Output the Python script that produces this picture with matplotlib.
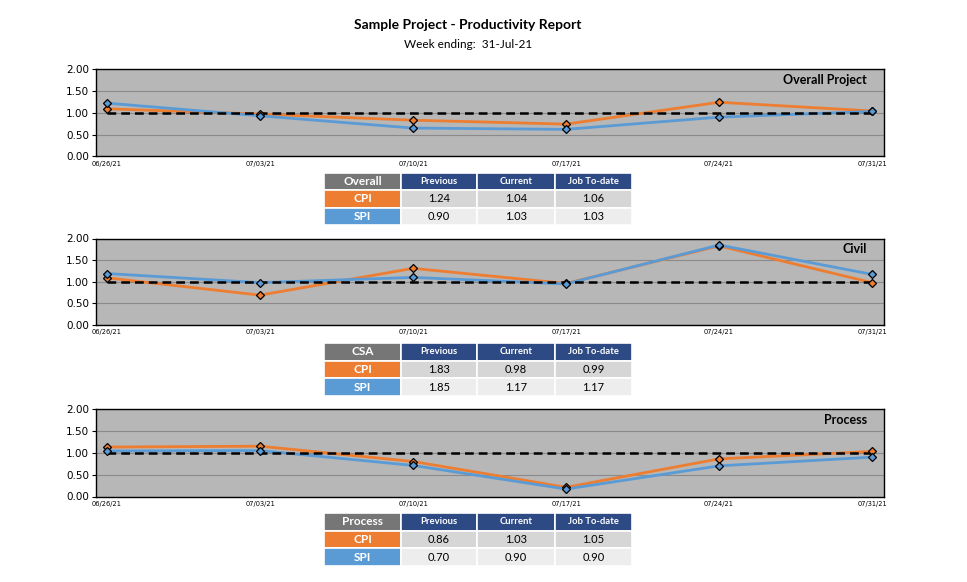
import matplotlib.pyplot as plt
from matplotlib.patches import Rectangle

# data
weeks = ["06/26/21", "07/03/21", "07/10/21", "07/17/21", "07/24/21", "07/31/21"]
target = [1.0, 1.0, 1.0, 1.0, 1.0, 1.0]

overall_cpi = [1.09, 0.97, 0.83, 0.74, 1.24, 1.04]
overall_spi = [1.22, 0.93, 0.65, 0.62, 0.90, 1.03]
civil_cpi = [1.09, 0.69, 1.31, 0.96, 1.83, 0.98]
civil_spi = [1.19, 0.98, 1.10, 0.95, 1.85, 1.17]
process_cpi = [1.13, 1.15, 0.80, 0.21, 0.86, 1.03]
process_spi = [1.04, 1.05, 0.71, 0.17, 0.70, 0.90]

table_cols = ["Previous", "Current", "Job To-date"]
overall_table = {"CPI": ["1.24", "1.04", "1.06"], "SPI": ["0.90", "1.03", "1.03"]}
civil_table = {"CPI": ["1.83", "0.98", "0.99"], "SPI": ["1.85", "1.17", "1.17"]}
process_table = {"CPI": ["0.86", "1.03", "1.05"], "SPI": ["0.70", "0.90", "0.90"]}

ORANGE = "#ED7D31"
BLUE = "#5B9BD5"
NAVY = "#2E4A84"
HEAD_GRAY = "#767676"
PLOT_BG = "#B7B7B7"

W, H = 967, 582
fig = plt.figure(figsize=(W / 100, H / 100), dpi=100)


def px_box(left, top, right, bottom):
    return [left / W, 1 - bottom / H, (right - left) / W, (bottom - top) / H]


fig.text(468 / W, 1 - 25 / H, "Sample Project - Productivity Report",
         ha="center", va="center", fontsize=10, fontweight="bold", family="Lato")
fig.text(468 / W, 1 - 44 / H, "Week ending:  31-Jul-21",
         ha="center", va="center", fontsize=8.5, family="Lato")


def chart(top, bottom, cpi, spi, label):
    ax = fig.add_axes(px_box(96, top, 884, bottom))
    x = range(len(weeks))
    ax.set_facecolor(PLOT_BG)
    ax.plot(x, cpi, color=ORANGE, lw=2, zorder=3)
    ax.plot(x, spi, color=BLUE, lw=2, zorder=3)
    ax.plot(x, target, color="black", lw=1.8, ls=(0, (3.5, 2)), zorder=4)
    ax.plot(x, cpi, ls="none", marker="D", ms=4, mfc=ORANGE, mec="black", mew=0.9, zorder=5)
    ax.plot(x, spi, ls="none", marker="D", ms=4, mfc=BLUE, mec="black", mew=0.9, zorder=5)
    ax.set_ylim(0, 2)
    ax.set_xlim(-0.072, 5.078)
    ax.set_yticks([0, 0.5, 1.0, 1.5, 2.0])
    ax.set_yticklabels([f"{v:.2f}" for v in [0, 0.5, 1.0, 1.5, 2.0]], fontsize=7.5)
    ax.set_xticks(list(x))
    ax.set_xticklabels(weeks, fontsize=4.8)
    ax.tick_params(axis="x", length=0, pad=3)
    ax.tick_params(axis="y", length=3, width=0.8, pad=2)
    ax.grid(axis="y", color="#8A8A8A", lw=0.8, zorder=1)
    ax.set_axisbelow(True)
    for s in ax.spines.values():
        s.set_color("black")
        s.set_linewidth(1)
    ax.text(0.978, 0.88, label, transform=ax.transAxes, ha="right", va="center",
            fontsize=9, fontweight="bold", family="Lato")


def table(top, bottom, name, rows):
    tax = fig.add_axes(px_box(324, top, 632, bottom))
    tax.set_xlim(0, 308)
    tax.set_ylim(3, 0)
    tax.axis("off")
    col_edges = [0, 77, 153, 231, 308]
    row_fill = {"CPI": "#D6D6D6", "SPI": "#EDEDED"}
    row_head = {"CPI": ORANGE, "SPI": BLUE}
    # header row
    heads = [name] + table_cols
    for j in range(4):
        x0, x1 = col_edges[j], col_edges[j + 1]
        fc = HEAD_GRAY if j == 0 else NAVY
        tax.add_patch(Rectangle((x0, 0), x1 - x0, 1, fc=fc, ec="white", lw=1.2))
        tax.text((x0 + x1) / 2, 0.5, heads[j], ha="center", va="center", color="white",
                 fontsize=8.5 if j == 0 else 6.8, fontweight="bold", family="Lato")
    for i, key in enumerate(["CPI", "SPI"]):
        y0 = i + 1
        for j in range(4):
            x0, x1 = col_edges[j], col_edges[j + 1]
            fc = row_head[key] if j == 0 else row_fill[key]
            tax.add_patch(Rectangle((x0, y0), x1 - x0, 1, fc=fc, ec="white", lw=1.2))
            if j == 0:
                tax.text((x0 + x1) / 2, y0 + 0.5, key, ha="center", va="center",
                         color="white", fontsize=8.5, fontweight="bold", family="Lato")
            else:
                tax.text((x0 + x1) / 2, y0 + 0.5, rows[key][j - 1], ha="center",
                         va="center", color="black", fontsize=8, family="Lato")


chart(69, 156.5, overall_cpi, overall_spi, "Overall Project")
table(173, 225, "Overall", overall_table)
chart(238.5, 325, civil_cpi, civil_spi, "Civil")
table(343, 396, "CSA", civil_table)
chart(409, 496.5, process_cpi, process_spi, "Process")
table(513, 566, "Process", process_table)

fig.savefig("out.png", dpi=100)
